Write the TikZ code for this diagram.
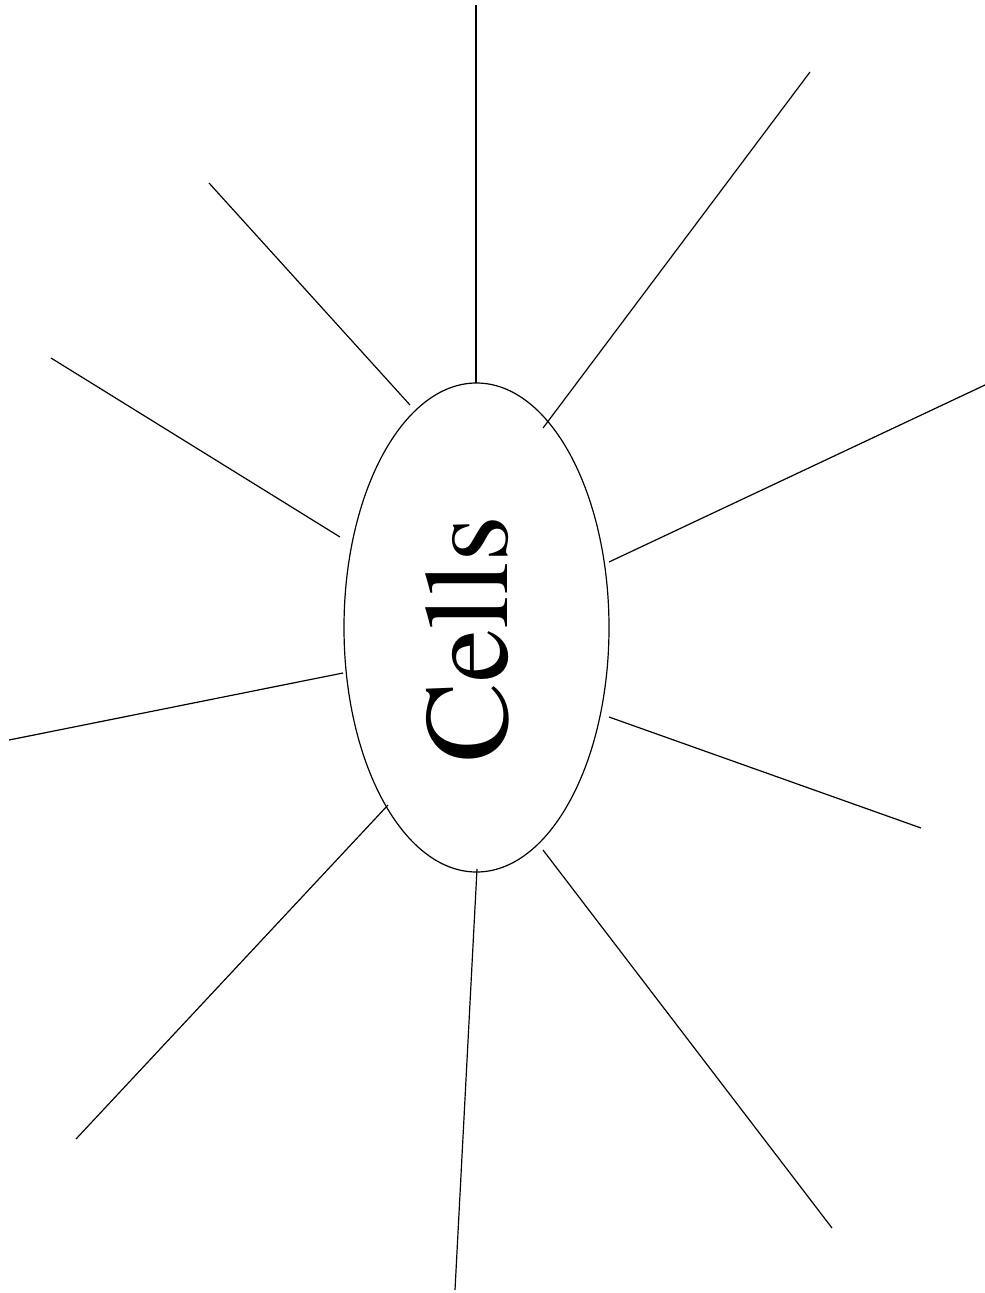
\documentclass[tikz,border=0pt]{standalone}
\usepackage{fontspec}
\setmainfont{TeX Gyre Termes}
\usepackage{tikz}
\usetikzlibrary{shapes.geometric}
\tikzset{
  cell body/.style={
    ellipse,
    draw=black,
    line width=1.2pt,
    minimum width=265pt,
    minimum height=489pt,
    inner sep=0pt
  },
  cell label/.style={
    rotate=90,
    inner sep=0pt,
    font=\fontsize{120}{120}\selectfont
  },
  spoke/.style={
    draw=black,
    line width=1.2pt
  }
}

\begin{document}
\begin{tikzpicture}[x=1pt, y=-1pt]
    % page frame
    \useasboundingbox (0,0) rectangle (985,1293);

    % centre
    \node[cell body] (cell) at (476.5,627.5) {};
    \node[cell label] (celllabel) at (467,639) {Cells};

    % inner ends (on the ellipse)
    \coordinate (in1) at (476,383);
    \coordinate (in2) at (543,428);
    \coordinate (in3) at (609,562);
    \coordinate (in4) at (609,717);
    \coordinate (in5) at (543,850);
    \coordinate (in6) at (477,869);
    \coordinate (in7) at (388,805);
    \coordinate (in8) at (343,673);
    \coordinate (in9) at (340,537);
    \coordinate (in10) at (410,405);

    % outer ends
    \coordinate (out1) at (476,5);
    \coordinate (out2) at (810,72);
    \coordinate (out3) at (985,385);
    \coordinate (out4) at (921,828);
    \coordinate (out5) at (832,1228);
    \coordinate (out6) at (455,1290);
    \coordinate (out7) at (76,1139);
    \coordinate (out8) at (9,740);
    \coordinate (out9) at (51,358);
    \coordinate (out10) at (209,183);

    % spokes
    \foreach \i in {1,...,10} {
      \draw[spoke] (in\i) -- (out\i);
    }

\end{tikzpicture}
\end{document}
